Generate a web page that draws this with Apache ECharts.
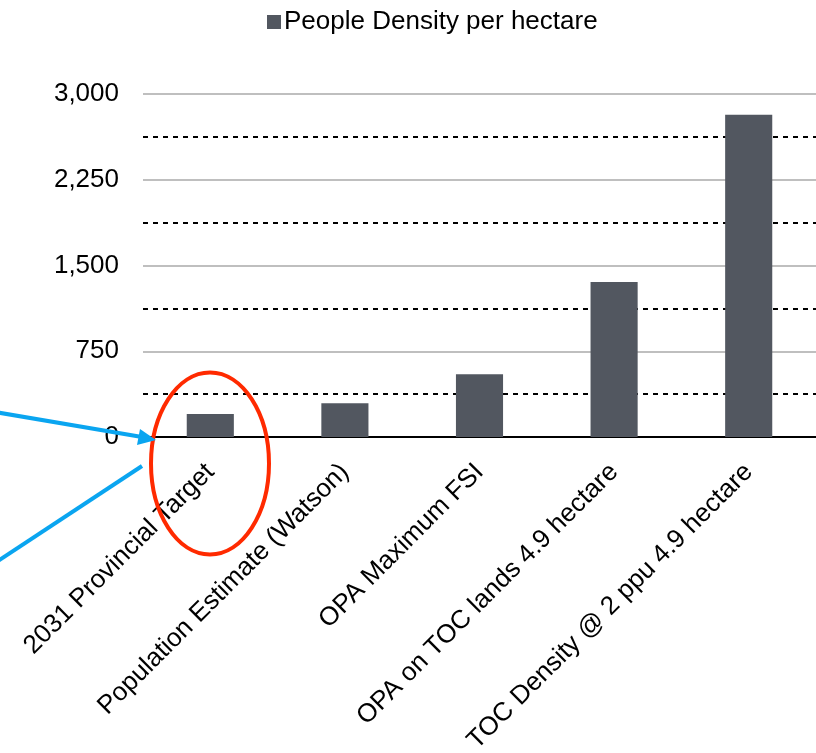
<!DOCTYPE html>
<html>
<head>
<meta charset="utf-8">
<script src="https://cdn.jsdelivr.net/npm/echarts@6/dist/echarts.min.js"></script>
<style>
html,body{margin:0;padding:0;background:#fff;}
#chart{width:816px;height:753px;}
</style>
</head>
<body>
<div id="chart"></div>
<script>
const categories = [
  "2031 Provincial Target",
  "Population Estimate (Watson)",
  "OPA Maximum FSI",
  "OPA on TOC lands 4.9 hectare",
  "TOC Density @ 2 ppu 4.9 hectare"
];
const densityValues = [201, 295, 549, 1356, 2818];
const seriesName = "People Density per hectare";
const yTicks = { min: 0, max: 3000, interval: 750 };

const chart = echarts.init(document.getElementById('chart'), null, { renderer: 'canvas' });
const FONT = '"Liberation Sans", Arial, sans-serif';
const BLUE = '#0aa5f0';
const RED = '#ff2a00';

chart.setOption({
  animation: false,
  backgroundColor: '#ffffff',
  textStyle: { fontFamily: FONT },
  legend: {
    data: [seriesName],
    top: 4,
    left: 262,
    icon: 'rect',
    itemWidth: 14,
    itemHeight: 14,
    itemGap: 4,
    textStyle: { fontSize: 26, color: '#000', fontFamily: FONT, padding: [0, 0, 0, -2] }
  },
  grid: { left: 143, right: 0, top: 94, bottom: 316, containLabel: false, outerBoundsMode: 'none' },
  xAxis: {
    type: 'category',
    data: categories,
    axisLine: { show: true, lineStyle: { color: '#000', width: 2 } },
    axisTick: { show: false },
    axisLabel: {
      interval: 0,
      rotate: 45,
      margin: 31,
      fontSize: 26,
      color: '#000',
      fontFamily: FONT
    }
  },
  yAxis: {
    type: 'value',
    min: yTicks.min,
    max: yTicks.max,
    interval: yTicks.interval,
    axisLine: { show: false },
    axisTick: { show: false },
    axisLabel: {
      margin: 24,
      fontSize: 26,
      color: '#000',
      fontFamily: FONT,
      formatter: v => v.toLocaleString('en-US')
    },
    splitLine: { show: true, lineStyle: { color: '#bfbfbf', width: 2 } },
    minorTick: { show: false, splitNumber: 2 },
    minorSplitLine: { show: true, lineStyle: { color: '#000', width: 2, type: [5, 5] } }
  },
  series: [{
    name: seriesName,
    type: 'bar',
    data: densityValues,
    barWidth: '35%',
    itemStyle: { color: '#525760' },
    z: 3
  }],
  graphic: [
    {
      type: 'ellipse',
      shape: { cx: 210, cy: 463.5, rx: 59, ry: 91 },
      style: { fill: 'none', stroke: RED, lineWidth: 4 },
      z: 100
    },
    {
      type: 'line',
      shape: { x1: -5, y1: 412, x2: 142, y2: 437 },
      style: { stroke: BLUE, lineWidth: 4 },
      z: 100
    },
    {
      type: 'polygon',
      shape: { points: [[156, 440], [137, 445], [140, 429]] },
      style: { fill: BLUE },
      z: 100
    },
    {
      type: 'line',
      shape: { x1: -5, y1: 563, x2: 142, y2: 466 },
      style: { stroke: BLUE, lineWidth: 4 },
      z: 100
    }
  ]
});
</script>
</body>
</html>
